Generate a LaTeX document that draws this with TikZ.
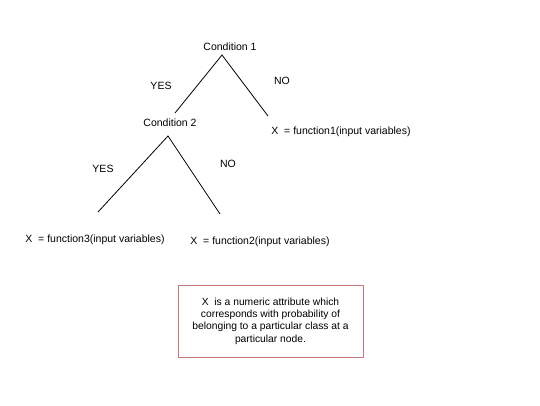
\documentclass[tikz,border=0pt]{standalone}
\usepackage{fontspec}
\setmainfont{Liberation Sans}
\definecolor{boxred}{RGB}{196,122,118}
\begin{document}
\begin{tikzpicture}[x=1pt,y=-1pt,
  lbl/.style={font=\fontsize{10.5}{12}\selectfont, inner sep=0pt},
  edge/.style={line width=0.8pt},
  notebox/.style={draw=boxred, line width=0.6pt, font=\fontsize{10.3}{12.3}\selectfont, align=center, minimum width=185pt, minimum height=72pt, inner sep=0pt}]
\useasboundingbox (0,0) rectangle (540,405);
\node[lbl] (c1) at (230,47) {Condition 1};
\node[lbl] (c2) at (170,123) {Condition 2};
\node[lbl] (f1) at (341,132) {X\ \ = function1(input variables)};
\node[lbl] (f3) at (95,240) {X\ \ = function3(input variables)};
\node[lbl] (f2) at (260,242) {X\ \ = function2(input variables)};
\node[lbl] (y1) at (161,86) {YES};
\node[lbl] (n1) at (282,81) {NO};
\node[lbl] (y2) at (103,169) {YES};
\node[lbl] (n2) at (228,164) {NO};
\coordinate (a1) at (222,55);
\coordinate (l1) at (175,113);
\coordinate (r1) at (268,116);
\coordinate (a2) at (168,136);
\coordinate (l2) at (98,212);
\coordinate (r2) at (220,214);
\draw[edge] (l1) -- (a1) -- (r1);
\draw[edge] (l2) -- (a2) -- (r2);
\node[notebox] (note) at (270.5,321) {X\ \ is a numeric attribute which\\corresponds with probability of\\belonging to a particular class at a\\particular node.};
\end{tikzpicture}
\end{document}
